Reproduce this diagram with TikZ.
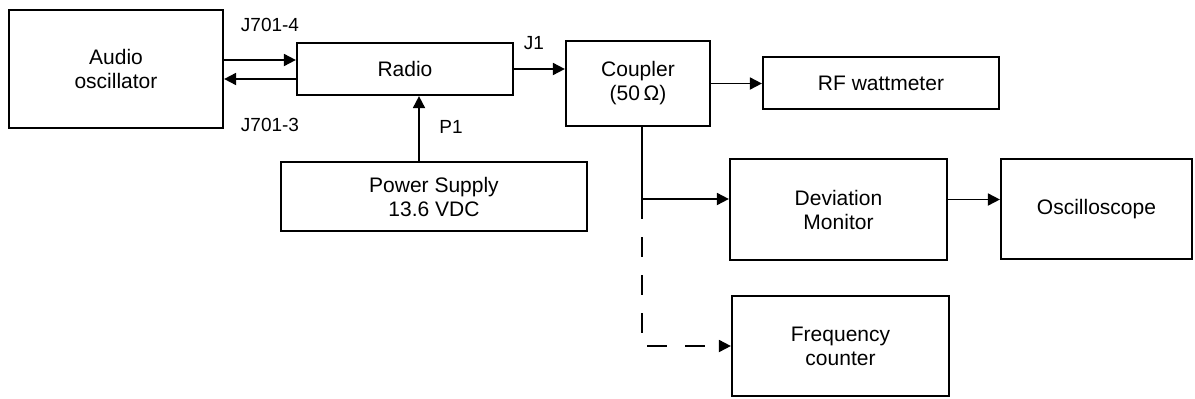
\documentclass[tikz,border=0pt]{standalone}
\usepackage{fontspec}
\setmainfont{Liberation Sans}
\usetikzlibrary{arrows.meta}
\begin{document}
\begin{tikzpicture}[x=1pt,y=-1pt]
    \tikzstyle{every node}+=[inner sep=0pt, font=\fontsize{21}{24}\selectfont]
    \tikzstyle{blk}=[draw, line width=2.2pt, align=center]
    \tikzstyle{lbl}=[font=\fontsize{19}{22}\selectfont]
    \tikzstyle{conn}=[line width=1.8pt, -{Triangle[length=12pt,width=12pt]}]
    \useasboundingbox (0,0) rectangle (1195,399);
    % blocks
    \node [blk, minimum width=214, minimum height=118] (audio) at (116,69) {Audio\\oscillator};
    \node [blk, minimum width=216, minimum height=52] (radio) at (405,69) {Radio};
    \node [blk, minimum width=306, minimum height=69] (ps) at (434,196.5) {Power Supply\\13.6 VDC};
    \node [blk, minimum width=144, minimum height=85] (coupler) at (638,83.5) {Coupler\\(50\,Ω)};
    \node [blk, minimum width=236, minimum height=52] (rf) at (881,83) {RF wattmeter};
    \node [blk, minimum width=217, minimum height=101] (dev) at (838.5,209.5) {Deviation\\Monitor};
    \node [blk, minimum width=191, minimum height=100] (osc) at (1096.5,209) {Oscilloscope};
    \node [blk, minimum width=217, minimum height=100] (freq) at (840.5,346) {Frequency\\counter};
    % labels
    \node [lbl] (j4) at (270,25) {J701-4};
    \node [lbl] (j3) at (270,125) {J701-3};
    \node [lbl] (p1) at (451,127) {P1};
    \node [lbl] (j1) at (534,43) {J1};
    % connectors
    \draw [conn] ([yshift=9pt]audio.east) -- ([yshift=9pt]audio.east -| radio.west);
    \draw [conn] ([yshift=-10pt]radio.west) -- ([yshift=-10pt]radio.west -| audio.east);
    \draw [conn] ([xshift=-15pt]ps.north) -- ([xshift=-15pt]ps.north |- radio.south);
    \draw [conn] (radio.east) -- (radio.east -| coupler.west);
    \draw [conn] (coupler.east) -- (coupler.east -| rf.west);
    \coordinate (tap) at (642,199);
    \draw [conn] (coupler.south -| tap) -- (tap) -- (tap -| dev.west);
    \draw [conn, dash pattern=on 20pt off 18pt] (tap) |- (freq.west);
    \draw [conn] ([yshift=10pt]dev.east) -- ([yshift=10pt]dev.east -| osc.west);
\end{tikzpicture}
\end{document}
